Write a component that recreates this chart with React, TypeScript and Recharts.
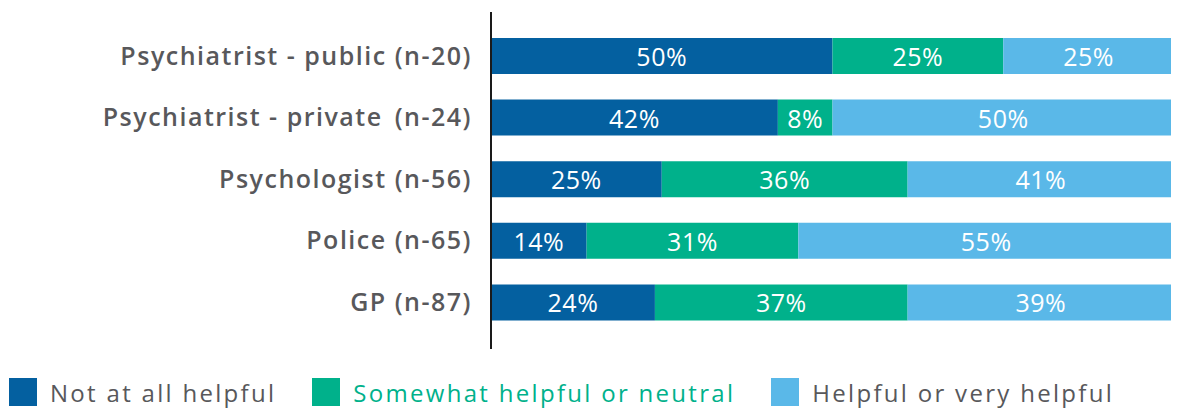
import React from "react";
import { BarChart, Bar, XAxis, YAxis, LabelList, Legend } from "recharts";

const categories = [
  "Psychiatrist - public (n-20)",
  "Psychiatrist - private \u200A(n-24)",
  "Psychologist (n-56)",
  "Police (n-65)",
  "GP (n-87)",
];
const notHelpful = [50, 42, 25, 14, 24];
const neutral = [25, 8, 36, 31, 37];
const helpful = [25, 50, 41, 55, 39];
const seriesNames = ["Not at all helpful", "Somewhat helpful or neutral", "Helpful or very helpful"];
const colors = ["#0460A0", "#00B18B", "#5AB8E8"];
const textColors = ["#58585B", "#00B18B", "#58585B"];

const data = categories.map((name, i) => ({
  name,
  a: notHelpful[i],
  b: neutral[i],
  c: helpful[i],
  // drawn part of the last series is capped at the 100% end of the axis
  cShown: Math.min(helpful[i], 100 - notHelpful[i] - neutral[i]),
}));

const FONT = "'Open Sans', Lato, sans-serif";

const renderLabel = (props: any) => {
  const { x, y, width, height, value } = props;
  return (
    <text
      x={Number(x) + Number(width) / 2}
      y={Number(y) + Number(height) / 2}
      textAnchor="middle"
      dominantBaseline="central"
      fill="#ffffff"
      fontSize={25}
      fontFamily={FONT}
      fontWeight={500}
      letterSpacing={0.5}
    >
      {value}%
    </text>
  );
};

const renderLegend = () => (
  <div style={{ paddingTop: 27, display: "flex", alignItems: "center", fontFamily: FONT, fontSize: 24, height: 32 }}>
    {seriesNames.map((n, i) => (
      <div key={n} style={{ display: "flex", alignItems: "center", marginLeft: i === 0 ? 1 : 36 }}>
        <div style={{ width: 28, height: 28, background: colors[i], marginRight: 13 }} />
        <span style={{ color: textColors[i], fontWeight: 500, letterSpacing: 2.3 }}>{n}</span>
      </div>
    ))}
  </div>
);

export default function App() {
  return (
    <div style={{ width: 1171, height: 404 }}>
      <BarChart
        width={1171}
        height={404}
        data={data}
        layout="vertical"
        margin={{ top: 4, right: 5, bottom: 4, left: 0 }}
      >
        <XAxis type="number" domain={[0, 100]} hide />
        <YAxis
          type="category"
          dataKey="name"
          width={483}
          padding={{ top: 13, bottom: 16 }}
          tickLine={false}
          tickSize={0}
          tickMargin={19}
          axisLine={{ stroke: "#1a1a1a", strokeWidth: 2 }}
          tick={{ fill: "#58585B", fontSize: 25, fontFamily: FONT, fontWeight: 600, letterSpacing: 1.5 }}
          interval={0}
        />
        <Legend verticalAlign="bottom" align="left" content={renderLegend} />
        <Bar dataKey="a" stackId="s" fill={colors[0]} barSize={36} isAnimationActive={false}>
          <LabelList dataKey="a" content={renderLabel} />
        </Bar>
        <Bar dataKey="b" stackId="s" fill={colors[1]} barSize={36} isAnimationActive={false}>
          <LabelList dataKey="b" content={renderLabel} />
        </Bar>
        <Bar dataKey="cShown" stackId="s" fill={colors[2]} barSize={36} isAnimationActive={false}>
          <LabelList dataKey="c" content={renderLabel} />
        </Bar>
      </BarChart>
    </div>
  );
}
